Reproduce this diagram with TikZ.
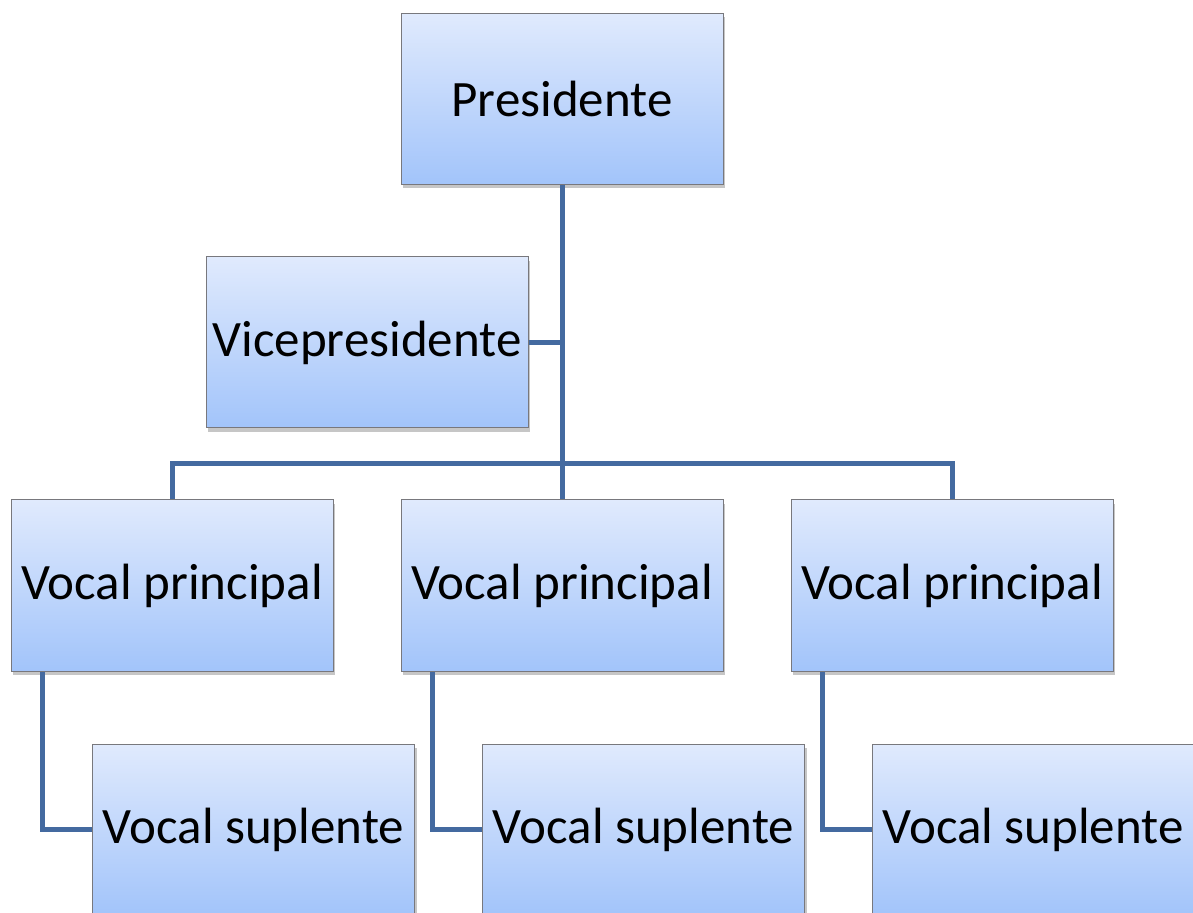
\documentclass[tikz,border=0pt]{standalone}
\usepackage{fontspec}
\setmainfont{Carlito}
\usetikzlibrary{calc,shadows}
\definecolor{boxtop}{RGB}{224,234,253}
\definecolor{boxbot}{RGB}{162,196,250}
\definecolor{boxline}{RGB}{120,120,125}
\definecolor{linkblue}{RGB}{68,106,160}
\tikzset{
	cargo/.style={draw=boxline, line width=0.5pt, top color=boxtop, bottom color=boxbot,
		minimum width=161pt, minimum height=85.5pt, inner sep=0pt,
		font=\fontsize{25.5}{30}\selectfont,
		drop shadow={opacity=0.45, shadow xshift=1.2pt, shadow yshift=-1.8pt}},
	link/.style={draw=linkblue, line width=2.5pt}
}
\begin{document}
\begin{tikzpicture}[x=0.5pt, y=-0.5pt]
			%%%%% START %%%%%
			
			\useasboundingbox (0, 0) rectangle (1193, 913);
			\clip (0, 0) rectangle (1193, 913);
			
			\coordinate (bus) at (562, 464);
			
			\node[cargo] (pres) at (562, 99) {Presidente};
			\node[cargo] (vice) at (367, 342.5) {Vicepresidente};
			
			\node[cargo] (vp1) at (172, 585.5) {Vocal principal};
			\node[cargo] (vp2) at (562, 585.5) {Vocal principal};
			\node[cargo] (vp3) at (952, 585.5) {Vocal principal};
			
			\node[cargo] (vs1) at (253.5, 829.5) {Vocal suplente};
			\node[cargo] (vs2) at (643.5, 829.5) {Vocal suplente};
			\node[cargo] (vs3) at (1033, 829.5) {Vocal suplente};
			
			\draw[link] (pres.south) -- (bus);
			\draw[link] (vice.east) -- (vice.east -| bus);
			\draw[link] (vp1.north) |- (bus) -| (vp3.north);
			\draw[link] (bus) -- (vp2.north);
			
			\draw[link] ([xshift=16pt]vp1.south west) |- (vs1.west);
			\draw[link] ([xshift=16pt]vp2.south west) |- (vs2.west);
			\draw[link] ([xshift=16pt]vp3.south west) |- (vs3.west);
			
			%%%%% END %%%%%
\end{tikzpicture}
\end{document}
